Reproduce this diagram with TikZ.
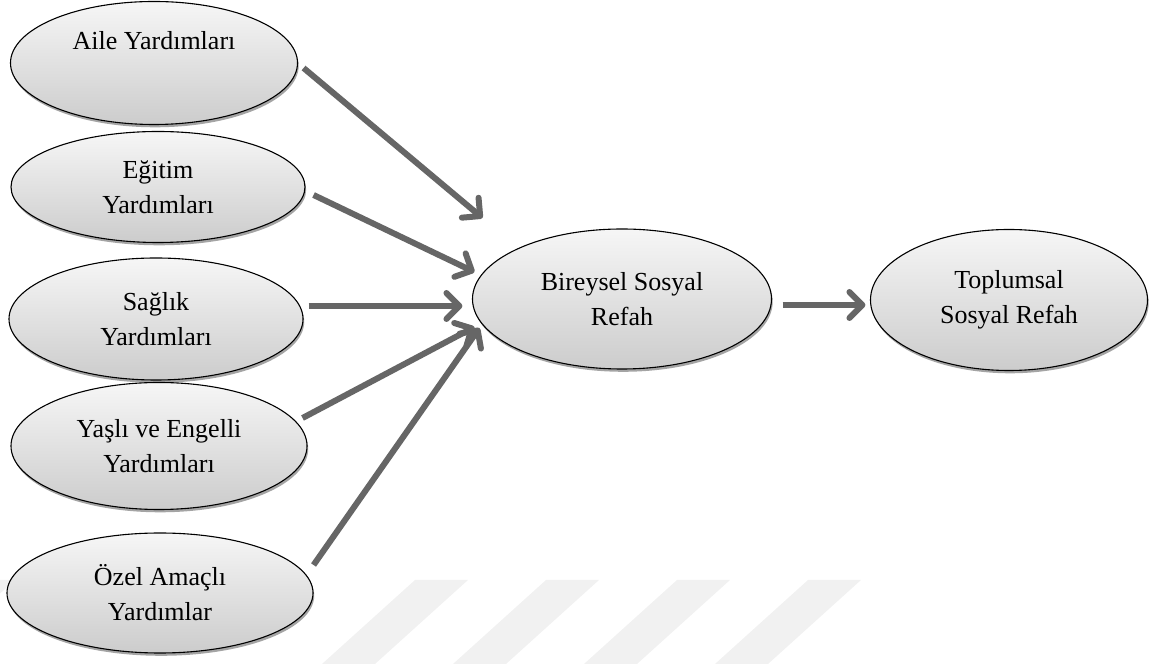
\documentclass[tikz,border=0pt]{standalone}
\usepackage{fontspec}
\setmainfont{Liberation Serif}
\usetikzlibrary{shapes.geometric,arrows.meta,shadows}

\newcommand*{\xmin}{0}
\newcommand*{\xmax}{1163}
\newcommand*{\ymin}{0}
\newcommand*{\ymax}{664}

\begin{document}
\begin{tikzpicture}
[
	x=1pt, y=1pt,
	bubble/.style 2 args={ellipse,draw,line width=1.1pt,inner sep=0pt,align=center,
		minimum width=#1,minimum height=#2,
		top color=gray!7,bottom color=gray!40,
		drop shadow={shadow xshift=1.2pt,shadow yshift=-2.8pt,fill=black!55,opacity=0.65},
		font=\fontsize{26}{35}\selectfont},
	arrow/.style={line width=6pt,draw=black!60,-{Straight Barb[length=13pt,width=26pt,round]}},
	stripe/.style={fill=gray!11,draw=none}
]

	\useasboundingbox (\xmin,\ymin) rectangle (\xmax,\ymax);

	% watermark
	\begin{scope}
		\clip (\xmin,\ymin) rectangle (\xmax,\ymax);
		\foreach \sx in {-38,415,546,677,808}
			\fill[stripe] (\sx,84) -- ++(53,0) -- ++(-93,-84) -- ++(-53,0) -- cycle;
	\end{scope}

	% left column
	\node[bubble={287pt}{123pt}] (aile) at (154,601) {Aile Yardımları\\ \strut};
	\node[bubble={294pt}{111pt}] (egitim) at (158,477) {Eğitim\\Yardımları};
	\node[bubble={294pt}{122pt}] (saglik) at (156,345) {Sağlık\\Yardımları};
	\node[bubble={296pt}{127pt}] (yasli) at (159,218) {Yaşlı ve Engelli\\Yardımları};
	\node[bubble={306pt}{120pt}] (ozel) at (160,71) {Özel Amaçlı\\Yardımlar};

	% right side
	\node[bubble={299pt}{140pt}] (bireysel) at (622,365) {Bireysel Sosyal\\Refah};
	\node[bubble={277pt}{141pt}] (toplumsal) at (1009,364) {Toplumsal\\Sosyal Refah};

	% arrows
	\draw[arrow] ([shift={(5.5,-5)}]aile.east) -- ([shift={(10.5,81)}]bireysel.west);
	\draw[arrow] ([shift={(8,-8)}]egitim.east) -- ([shift={(2.5,27)}]bireysel.west);
	\draw[arrow] ([shift={(5,13)}]saglik.east) -- ([shift={(-9.5,-7)}]bireysel.west);
	\draw[arrow] ([shift={(-5,28)}]yasli.east) -- ([shift={(2.5,-28)}]bireysel.west);
	\draw[arrow] ([shift={(0,28)}]ozel.east) -- ([shift={(7.5,-29)}]bireysel.west);
	\draw[arrow] ([shift={(10.5,-6)}]bireysel.east) -- ([shift={(-4.5,-5)}]toplumsal.west);

\end{tikzpicture}
\end{document}
